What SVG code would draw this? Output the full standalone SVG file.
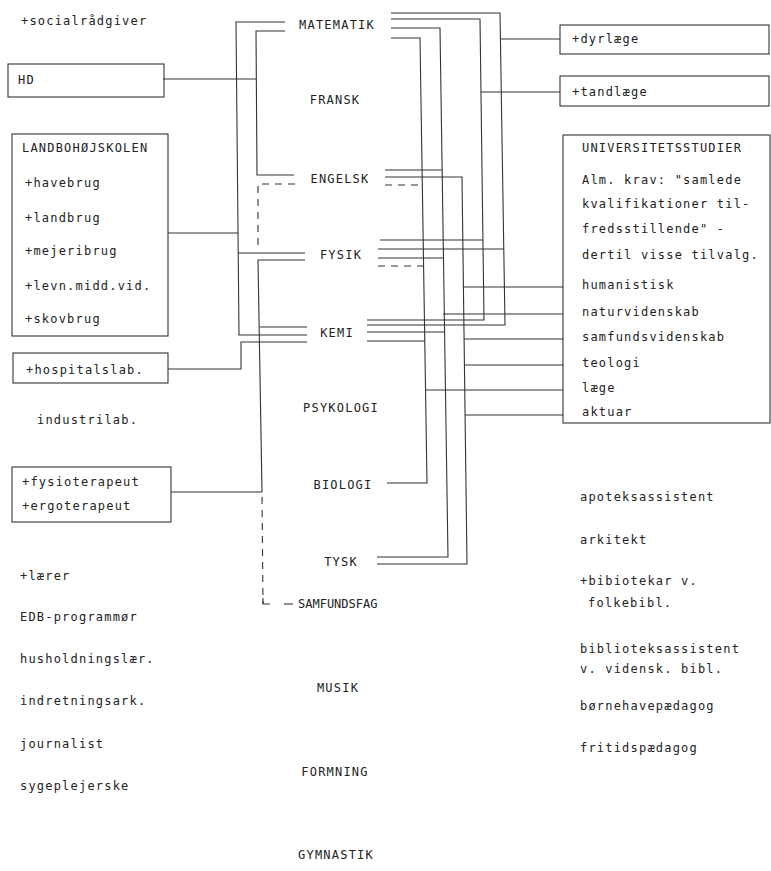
<svg xmlns="http://www.w3.org/2000/svg" width="771" height="871" viewBox="0 0 771 871">
<style>
text{font-family:"DejaVu Sans Mono","Liberation Mono",monospace;font-size:12px;letter-spacing:1.2px;fill:#222}
.c{text-anchor:middle}
.box{fill:none;stroke:#333;stroke-width:1.1}
#connectors path{fill:none;stroke:#333;stroke-width:1.1}
#connectors .d{stroke-dasharray:7,6}
</style>
<rect width="771" height="871" fill="#fff"/>

<g id="connectors">
<!-- left side -->
<path d="M285,22 H236 L239,335 H307"/>
<path d="M163,79 H256"/>
<path d="M285,31 H256 L257,175 H294"/>
<path d="M168,233 H238"/>
<path d="M238,253 H305"/>
<path class="d" d="M295,184 H258 V248"/>
<path d="M305,260 H258 L262,492"/>
<path d="M260,327 H307"/>
<path d="M168,369 H241 V342 H307"/>
<path d="M171,492 H262"/>
<path class="d" d="M262,497 L263,604"/>
<path d="M263,598 V604 H270"/>
<path d="M284,604 H293"/>
<!-- right side -->
<path d="M391,13 H500 L505,325 H367"/>
<path d="M500,39 H560"/>
<path d="M378,249 H504"/>
<path d="M391,19 H480 L484,320 H367"/>
<path d="M481,92 H560"/>
<path d="M380,240 H483"/>
<path d="M391,28 H440 L448,557 H377"/>
<path d="M385,170 H442"/>
<path d="M378,258 H443"/>
<path d="M443,314 H563"/>
<path d="M367,332 H445"/>
<path d="M391,38 H420 L427,483 H387"/>
<path class="d" d="M385,185 H422"/>
<path class="d" d="M378,266 H424"/>
<path d="M367,341 H425"/>
<path d="M425,390 H563"/>
<path d="M385,177 H462 L467,564 H377"/>
<path d="M463,287 H563"/>
<path d="M464,339 H563"/>
<path d="M464,365 H563"/>
<path d="M465,415 H563"/>
</g>

<g id="socialraadgiver"><text x="21" y="25">+socialrådgiver</text></g>
<g id="hd"><rect class="box" x="8" y="64" width="156" height="33"/><text x="18" y="84">HD</text></g>
<g id="landbohoejskolen">
<rect class="box" x="12" y="134" width="156" height="202"/>
<text x="22" y="152">LANDBOHØJSKOLEN</text>
<text x="25" y="187">+havebrug</text>
<text x="25" y="222">+landbrug</text>
<text x="25" y="255">+mejeribrug</text>
<text x="25" y="290">+levn.midd.vid.</text>
<text x="25" y="323">+skovbrug</text>
</g>
<g id="hospitalslab"><rect class="box" x="13" y="353" width="155" height="30"/><text x="26" y="374">+hospitalslab.</text></g>
<g id="industrilab"><text x="37" y="424">industrilab.</text></g>
<g id="fysioterapeut">
<rect class="box" x="12" y="467" width="159" height="55"/>
<text x="22" y="486">+fysioterapeut</text>
<text x="22" y="510">+ergoterapeut</text>
</g>
<g id="laerer"><text x="20" y="580">+lærer</text></g>
<g id="edb"><text x="20" y="621">EDB-programmør</text></g>
<g id="husholdning"><text x="20" y="663">husholdningslær.</text></g>
<g id="indretning"><text x="20" y="705">indretningsark.</text></g>
<g id="journalist"><text x="20" y="748">journalist</text></g>
<g id="sygeplejerske"><text x="20" y="790">sygeplejerske</text></g>

<g id="matematik"><text class="c" x="337" y="29">MATEMATIK</text></g>
<g id="fransk"><text class="c" x="335" y="104">FRANSK</text></g>
<g id="engelsk"><text class="c" x="340" y="183">ENGELSK</text></g>
<g id="fysik"><text class="c" x="341" y="259">FYSIK</text></g>
<g id="kemi"><text class="c" x="337" y="337">KEMI</text></g>
<g id="psykologi"><text class="c" x="341" y="412">PSYKOLOGI</text></g>
<g id="biologi"><text class="c" x="343" y="489">BIOLOGI</text></g>
<g id="tysk"><text class="c" x="341" y="566">TYSK</text></g>
<g id="samfundsfag"><text x="298" y="608" style="letter-spacing:0">SAMFUNDSFAG</text></g>
<g id="musik"><text class="c" x="338" y="692">MUSIK</text></g>
<g id="formning"><text class="c" x="335" y="776">FORMNING</text></g>
<g id="gymnastik"><text class="c" x="336" y="859">GYMNASTIK</text></g>

<g id="dyrlaege"><rect class="box" x="560" y="25" width="209" height="29"/><text x="572" y="43">+dyrlæge</text></g>
<g id="tandlaege"><rect class="box" x="560" y="76" width="209" height="30"/><text x="572" y="96">+tandlæge</text></g>
<g id="universitetsstudier">
<rect class="box" x="563" y="135" width="207" height="288"/>
<text x="582" y="152">UNIVERSITETSSTUDIER</text>
<text x="582" y="184">Alm. krav: "samlede</text>
<text x="582" y="208">kvalifikationer til-</text>
<text x="582" y="233">fredsstillende" -</text>
<text x="582" y="259">dertil visse tilvalg.</text>
<text x="582" y="289">humanistisk</text>
<text x="582" y="316">naturvidenskab</text>
<text x="582" y="341">samfundsvidenskab</text>
<text x="582" y="367">teologi</text>
<text x="582" y="392">læge</text>
<text x="582" y="416">aktuar</text>
</g>
<g id="apoteksassistent"><text x="580" y="501">apoteksassistent</text></g>
<g id="arkitekt"><text x="580" y="544">arkitekt</text></g>
<g id="bibliotekar"><text x="580" y="585">+bibiotekar v.</text><text x="588" y="607">folkebibl.</text></g>
<g id="biblioteksassistent"><text x="580" y="653">biblioteksassistent</text><text x="580" y="673">v. vidensk. bibl.</text></g>
<g id="boernehave"><text x="580" y="710">børnehavepædagog</text></g>
<g id="fritid"><text x="580" y="752">fritidspædagog</text></g>
</svg>
